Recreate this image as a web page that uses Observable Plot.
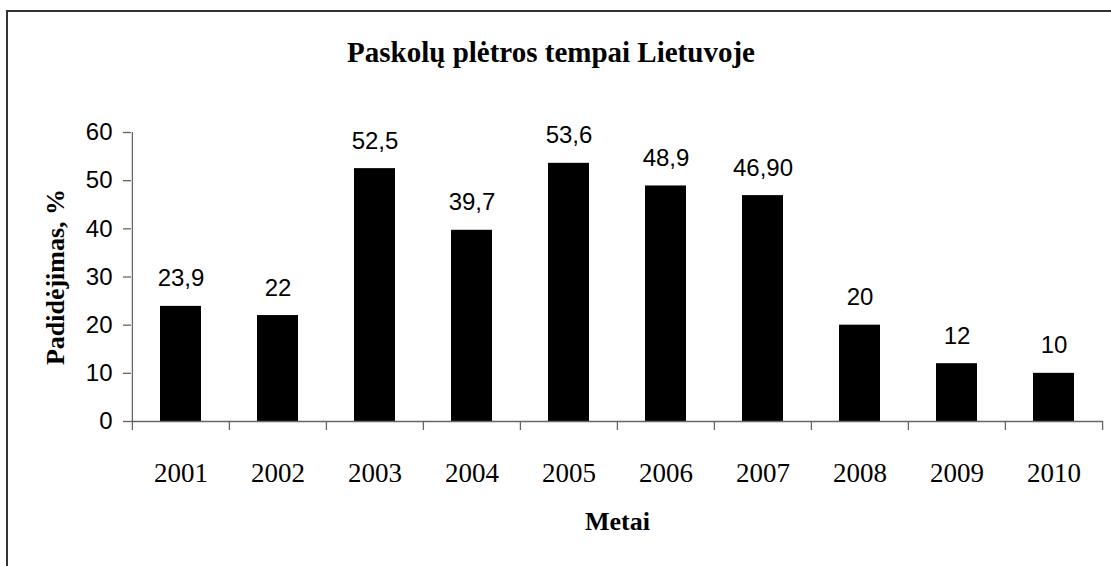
<!DOCTYPE html>
<html>
<head>
<meta charset="utf-8">
<script src="https://cdn.jsdelivr.net/npm/d3@7"></script>
<script src="https://cdn.jsdelivr.net/npm/@observablehq/plot@0.6"></script>
<style>
  html, body { margin: 0; padding: 0; background: #fff; overflow: hidden; }
  #wrap { position: relative; width: 1111px; height: 566px; overflow: hidden; }
  #frame { position: absolute; left: 6px; top: 10px; width: 1300px; height: 800px; border-left: 2px solid #333; border-top: 2px solid #333; box-sizing: border-box; }
  #title { position: absolute; left: 0; top: 38px; width: 1102px; text-align: center;
           font: bold 29px "Liberation Serif", "Times New Roman", serif; line-height: 29px; color: #000; }
  #chart { position: absolute; left: 0; top: 0; }
</style>
</head>
<body>
<div id="wrap">
  <div id="frame"></div>
  <div id="chart"></div>
  <div id="title">Paskolų plėtros tempai Lietuvoje</div>
</div>
<script>
const years = ["2001","2002","2003","2004","2005","2006","2007","2008","2009","2010"];
const values = [23.9, 22, 52.5, 39.7, 53.6, 48.9, 46.9, 20, 12, 10];
const valueLabels = ["23,9","22","52,5","39,7","53,6","48,9","46,90","20","12","10"];
const yTicks = [0, 10, 20, 30, 40, 50, 60];
const yLabel = "Padidėjimas, %";
const xLabel = "Metai";

const data = years.map((y, i) => ({year: y, value: values[i], label: valueLabels[i]}));

const W = 1111, H = 566;
const mL = 131, mR = 8, mT = 132, mB = 145;
const step = (W - mL - mR) / years.length;
const axisColor = "#666";
const sans = "'Liberation Sans', Arial, sans-serif";
const serif = "'Liberation Serif', 'Times New Roman', serif";

const chart = Plot.plot({
  width: W,
  height: H,
  marginLeft: mL,
  marginRight: mR,
  marginTop: mT,
  marginBottom: mB,
  style: {background: "transparent", overflow: "visible"},
  x: {type: "band", domain: years, paddingInner: 0.58, paddingOuter: 0.29, axis: null},
  y: {domain: [0, 60], axis: null},
  marks: [
    Plot.barY(data, {x: "year", y: "value", fill: "#000"}),
    // x axis line
    Plot.ruleY([0], {stroke: axisColor, strokeWidth: 1.3}),
    // y axis line
    Plot.ruleX([years[0]], {x: d => d, dx: -step / 2, y1: 0, y2: 60, stroke: axisColor, strokeWidth: 1.3}),
    // y ticks and labels
    Plot.axisY({ticks: yTicks, tickSize: 8, tickPadding: 11, fontSize: 24, fontFamily: sans, stroke: axisColor, strokeWidth: 1.3, fill: "#000", label: null}),
    // x tick marks at band boundaries
    Plot.axisX({ticks: years, tickSize: 9, tickFormat: () => "", dx: -step / 2, stroke: axisColor, strokeWidth: 1.3, label: null}),
    Plot.axisX({ticks: [years[years.length - 1]], tickSize: 9, tickFormat: () => "", dx: step / 2, stroke: axisColor, strokeWidth: 1.3, label: null}),
    // year labels
    Plot.text(years, {x: d => d, frameAnchor: "bottom", dy: 60, lineAnchor: "bottom", fontSize: 27, fontFamily: serif, fill: "#000"}),
    // value labels
    Plot.text(data, {x: "year", y: "value", text: "label", dy: -20, lineAnchor: "bottom", fontSize: 24, fontFamily: sans, fill: "#000"}),
    // axis titles
    Plot.text([yLabel], {frameAnchor: "left", dx: -76, rotate: -90, textAnchor: "middle", fontSize: 26, fontWeight: "bold", fontFamily: serif, fill: "#000"}),
    Plot.text([xLabel], {frameAnchor: "bottom", dy: 108, lineAnchor: "bottom", fontSize: 26, fontWeight: "bold", fontFamily: serif, fill: "#000"})
  ]
});
document.getElementById("chart").appendChild(chart);
</script>
</body>
</html>
